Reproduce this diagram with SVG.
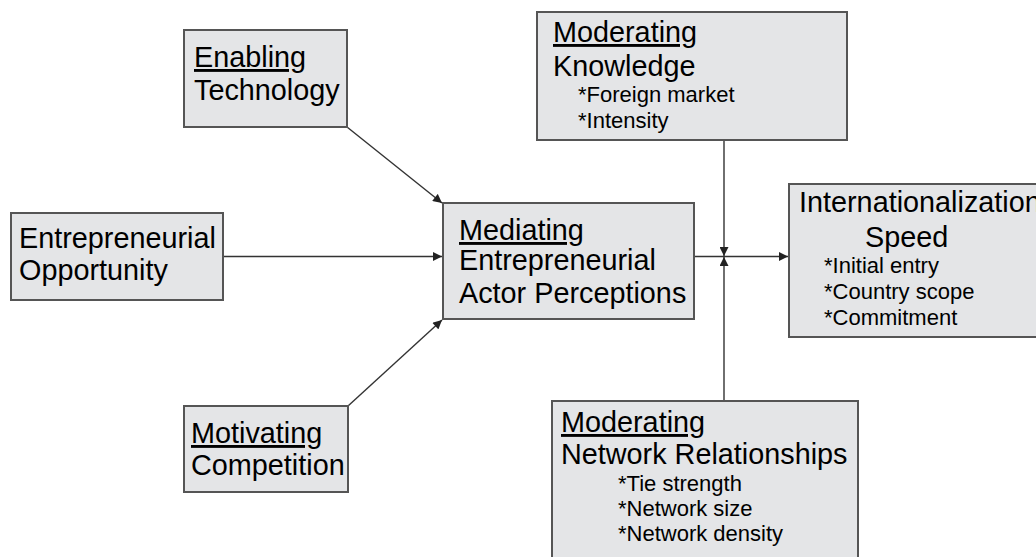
<svg xmlns="http://www.w3.org/2000/svg" width="1036" height="557" viewBox="0 0 1036 557">
<style>
.box{fill:#e4e5e7;stroke:#555;stroke-width:2}
.t{font-family:"Liberation Sans",Arial,sans-serif;font-size:28.8px;fill:#000}
.s{font-family:"Liberation Sans",Arial,sans-serif;font-size:22px;fill:#000}
.u{text-decoration:underline}
.c{stroke:#333;stroke-width:1.4;fill:none}
</style>
<defs>
<marker id="ah" viewBox="0 0 10 10" refX="10" refY="5" markerWidth="10" markerHeight="9" markerUnits="userSpaceOnUse" orient="auto">
<path d="M0,0 L10,5 L0,10 z" fill="#222"/>
</marker>
</defs>
<rect width="1036" height="557" fill="#fff"/>
<g id="connectors">
<line class="c" x1="347" y1="127" x2="442" y2="203" marker-end="url(#ah)"/>
<line class="c" x1="222" y1="256.5" x2="442" y2="256.5" marker-end="url(#ah)"/>
<line class="c" x1="348" y1="406" x2="442" y2="320" marker-end="url(#ah)"/>
<line class="c" x1="694" y1="256.5" x2="788" y2="256.5" marker-end="url(#ah)"/>
<line class="c" x1="724" y1="140" x2="724" y2="256" marker-end="url(#ah)"/>
<line class="c" x1="724" y1="401" x2="724" y2="257" marker-end="url(#ah)"/>
</g>
<g id="enabling">
<rect class="box" x="184" y="30" width="163" height="97"/>
<text class="t u" x="194" y="67">Enabling</text>
<text class="t" x="194" y="100">Technology</text>
</g>
<g id="opportunity">
<rect class="box" x="11" y="213" width="212" height="87"/>
<text class="t" x="19" y="248">Entrepreneurial</text>
<text class="t" x="19" y="280">Opportunity</text>
</g>
<g id="competition">
<rect class="box" x="184" y="406" width="164" height="86"/>
<text class="t u" x="191" y="443">Motivating</text>
<text class="t" x="191" y="475">Competition</text>
</g>
<g id="mediating">
<rect class="box" x="443" y="203" width="251" height="116"/>
<text class="t u" x="459" y="240">Mediating</text>
<text class="t" x="459" y="270">Entrepreneurial</text>
<text class="t" x="459" y="303">Actor Perceptions</text>
</g>
<g id="knowledge">
<rect class="box" x="537" y="12" width="310" height="128"/>
<text class="t u" x="553" y="42">Moderating</text>
<text class="t" x="553" y="76">Knowledge</text>
<text class="s" x="578" y="102">*Foreign market</text>
<text class="s" x="578" y="128">*Intensity</text>
</g>
<g id="speed">
<rect class="box" x="789" y="184" width="260" height="153"/>
<text class="t" x="799" y="212">Internationalization</text>
<text class="t" x="865" y="247">Speed</text>
<text class="s" x="824" y="273">*Initial entry</text>
<text class="s" x="824" y="299">*Country scope</text>
<text class="s" x="824" y="325">*Commitment</text>
</g>
<g id="network">
<rect class="box" x="552" y="401" width="306" height="170"/>
<text class="t u" x="561" y="432">Moderating</text>
<text class="t" x="561" y="464">Network Relationships</text>
<text class="s" x="618" y="491">*Tie strength</text>
<text class="s" x="618" y="516">*Network size</text>
<text class="s" x="618" y="541">*Network density</text>
</g>
</svg>
